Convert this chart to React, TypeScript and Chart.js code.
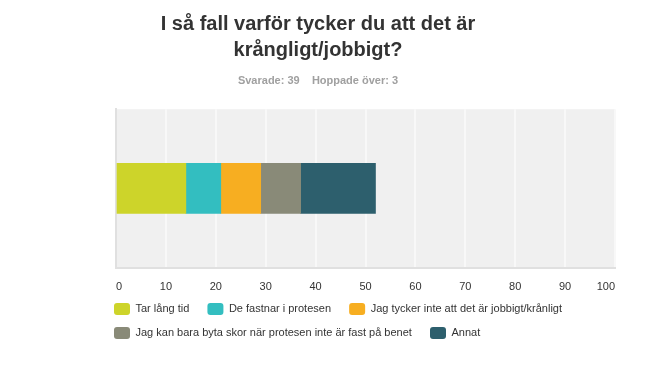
import React, { useEffect, useRef } from "react";
import { Chart, registerables } from "chart.js";

Chart.register(...registerables);

const TITLE_LINES = ["I så fall varför tycker du att det är", "krångligt/jobbigt?"];
const ANSWERED = 39;
const SKIPPED = 3;
const CATEGORIES = [""];
const SERIES_LABELS = [
  "Tar lång tid",
  "De fastnar i protesen",
  "Jag tycker inte att det är jobbigt/krånligt",
  "Jag kan bara byta skor när protesen inte är fast på benet",
  "Annat",
];
const SERIES_VALUES = [14, 7, 8, 8, 15];
const SERIES_COLORS = ["#cdd42a", "#33bec0", "#f7ae21", "#898a78", "#2d5f6d"];
const X_MIN = 0;
const X_MAX = 100;
const X_STEP = 10;

const FONT = "'Liberation Sans', Arial, Helvetica, sans-serif";

const plotBackground = {
  id: "plotBackground",
  beforeDraw(chart: any) {
    const { ctx, chartArea } = chart;
    if (!chartArea) return;
    ctx.save();
    ctx.fillStyle = "#f0f0f0";
    ctx.fillRect(chartArea.left, chartArea.top, chartArea.right - chartArea.left, chartArea.bottom - chartArea.top);
    ctx.restore();
  },
};

const legendShift = {
  id: "legendShift",
  afterLayout(chart: any) {
    const lg = chart.legend;
    if (!lg || !chart.chartArea) return;
    const target = chart.chartArea.left - 14;
    const dx = target - lg.left;
    lg.left += dx;
    lg.right += dx;
  },
};

export default function App() {
  const ref = useRef<HTMLCanvasElement | null>(null);

  useEffect(() => {
    if (!ref.current) return;
    const chart = new Chart(ref.current, {
      type: "bar",
      data: {
        labels: CATEGORIES,
        datasets: SERIES_LABELS.map((label, i) => ({
          label,
          data: [SERIES_VALUES[i]],
          backgroundColor: SERIES_COLORS[i],
          borderWidth: 0,
          barThickness: 50,
        })),
      },
      options: {
        indexAxis: "y",
        responsive: false,
        animation: false,
        layout: { padding: { left: 0, right: 0, top: 0, bottom: 14 } },
        scales: {
          x: {
            type: "linear",
            stacked: true,
            min: X_MIN,
            max: X_MAX,
            position: "bottom",
            grid: { color: "#f8f8f8", lineWidth: 2, drawTicks: false },
            border: { display: true, color: "#e0e0e0", width: 2 },
            ticks: {
              stepSize: X_STEP,
              align: "inner",
              padding: 12.4,
              color: "#333333",
              maxRotation: 0,
              autoSkip: false,
              font: { family: FONT, size: 11, lineHeight: 1.2 },
            },
            afterFit: (s: any) => {
              s.height = 23.5;
            },
          },
          y: {
            type: "category",
            stacked: true,
            position: "left",
            grid: { display: false },
            border: { display: true, color: "#e0e0e0", width: 2 },
            ticks: { display: false },
            afterFit: (s: any) => {
              s.width = 108;
            },
          },
          yRight: {
            type: "linear",
            position: "right",
            min: 0,
            max: 1,
            grid: { display: false },
            border: { display: false },
            ticks: { display: false },
            afterFit: (s: any) => {
              s.width = 13;
            },
          },
        },
        plugins: {
          title: {
            display: true,
            text: TITLE_LINES,
            color: "#333333",
            font: { family: FONT, size: 20, weight: "bold", lineHeight: 1.3 },
            padding: { top: 3, bottom: 0 },
          },
          subtitle: {
            display: true,
            text: `Svarade: ${ANSWERED}    Hoppade över: ${SKIPPED}`,
            color: "#a0a0a0",
            font: { family: FONT, size: 11, weight: "bold", lineHeight: 1.2 },
            padding: { top: 11, bottom: 22 },
          },
          legend: {
            display: true,
            position: "bottom",
            align: "start",
            labels: {
              boxWidth: 16,
              boxHeight: 12,
              padding: 12,
              color: "#333333",
              useBorderRadius: true,
              borderRadius: 3,
              font: { family: FONT, size: 11 },
              generateLabels: (c: any) =>
                (Chart.defaults.plugins.legend.labels.generateLabels as any)(c).map((l: any) => ({
                  ...l,
                  text: l.text + "  ",
                })),
            },
          },
          tooltip: { enabled: false },
        },
      },
      plugins: [plotBackground, legendShift],
    } as any);
    return () => chart.destroy();
  }, []);

  return (
    <div style={{ width: 620, height: 355 }}>
      <canvas ref={ref} width={620} height={355} style={{ display: "block" }} />
    </div>
  );
}
